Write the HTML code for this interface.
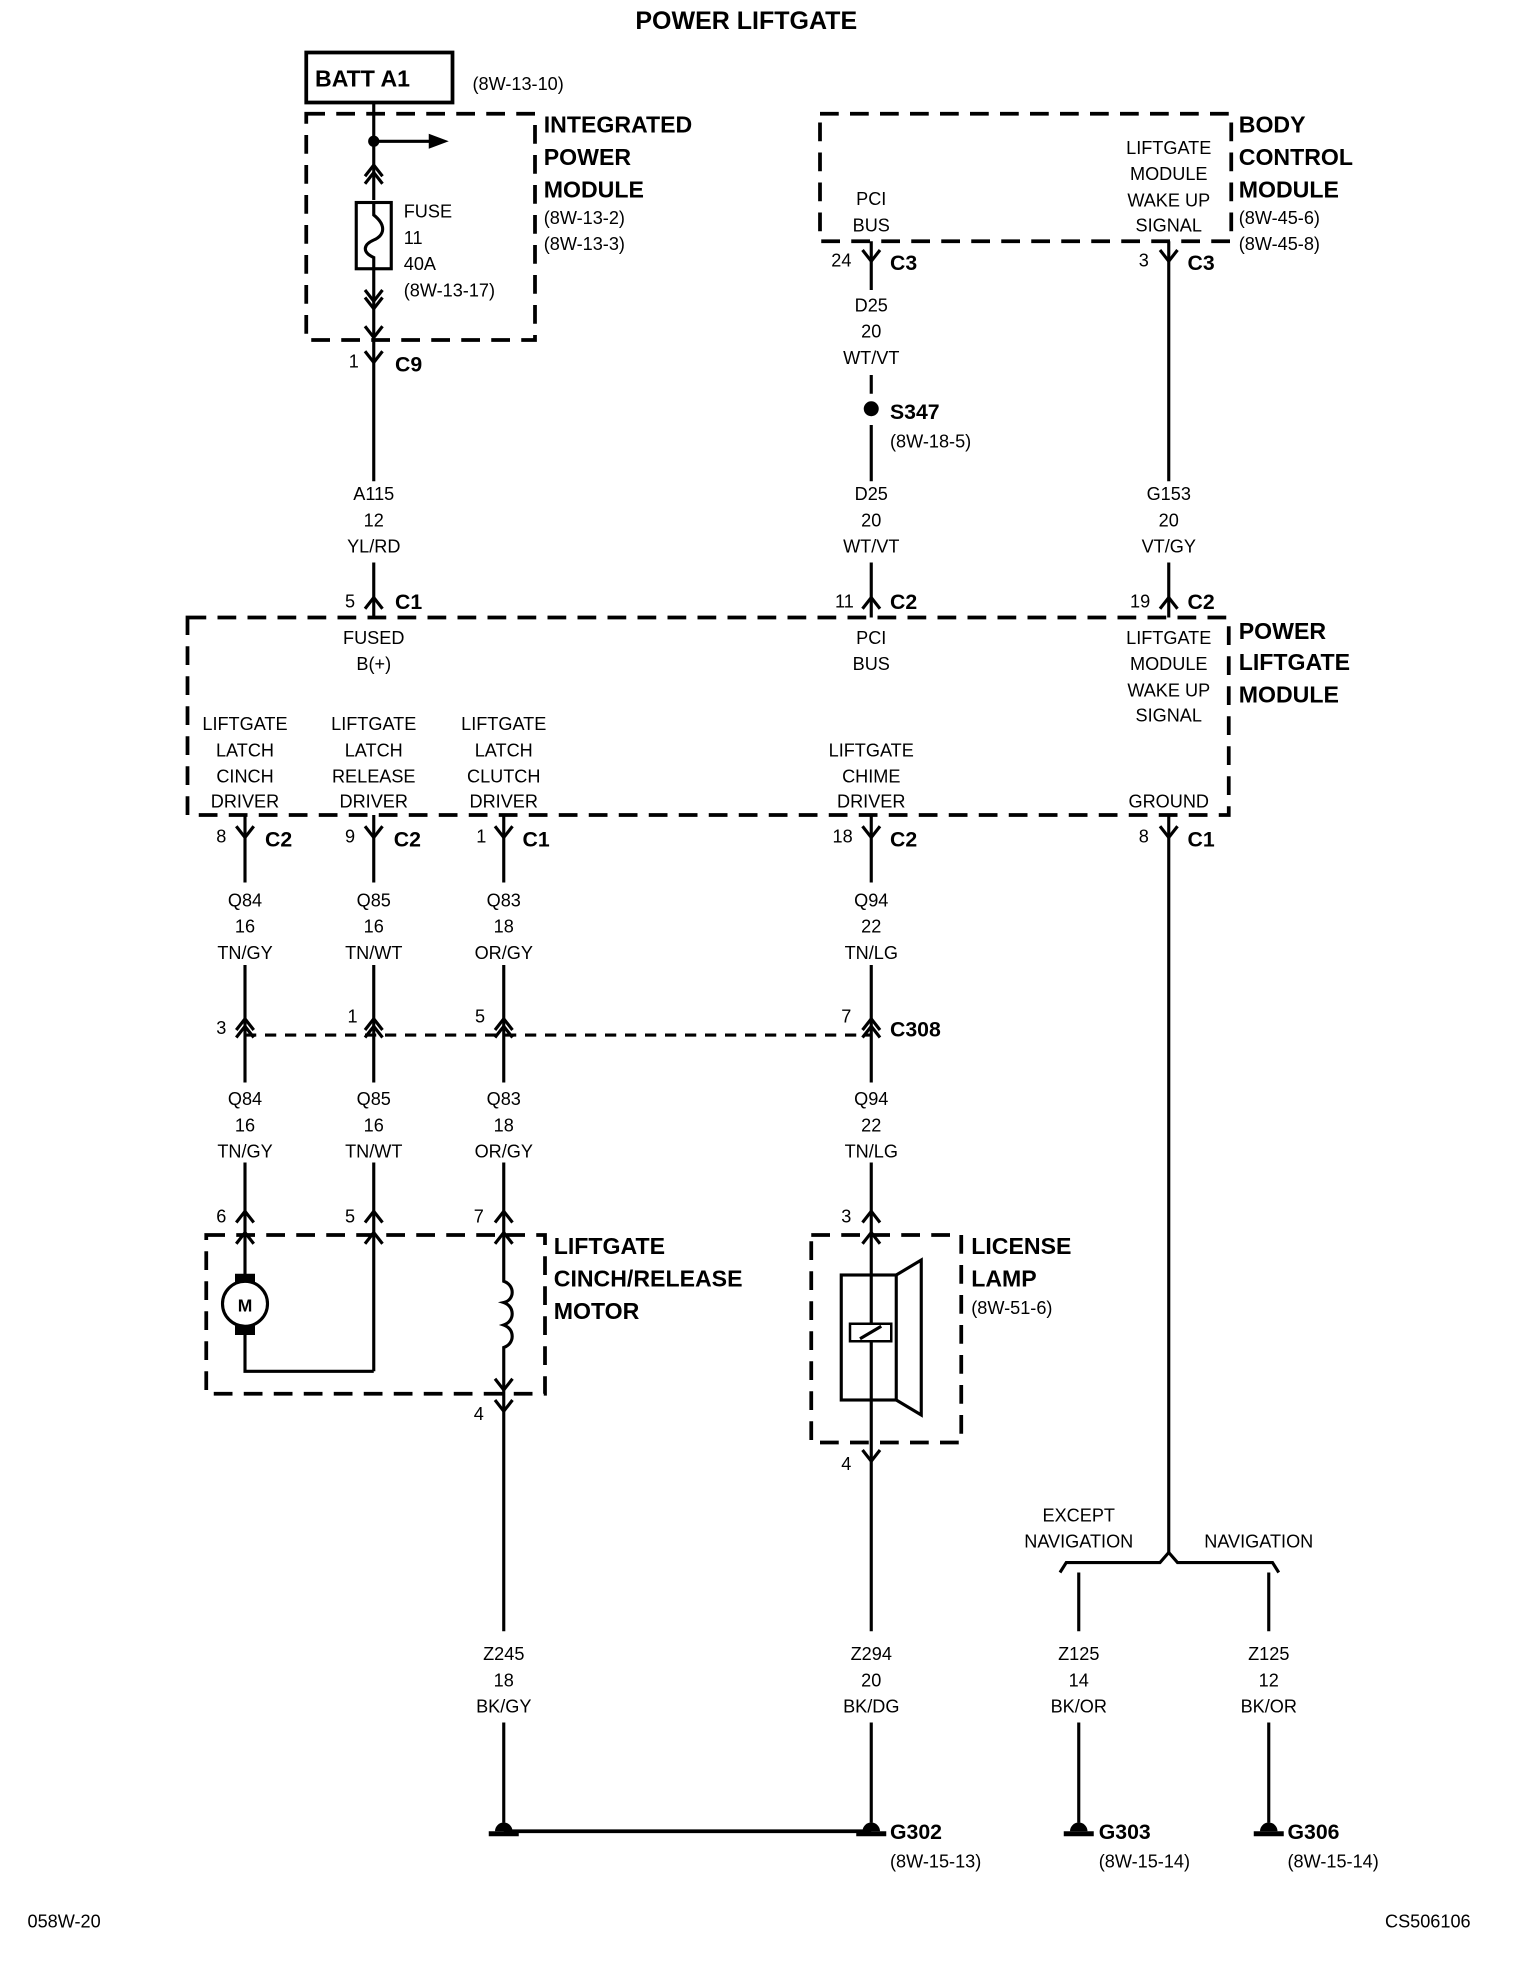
<!DOCTYPE html>
<html><head><meta charset="utf-8"><style>
html,body{margin:0;padding:0;background:#fff}
svg{display:block}
text{font-family:"Liberation Sans Narrow","Liberation Sans",sans-serif;fill:#000}
.t{font-size:14.5px;text-anchor:middle}
.l{font-size:14.5px}
.b{font-size:18.5px;font-weight:bold}
.c{font-size:17px;font-weight:bold}
.w{stroke:#000;stroke-width:2.5;fill:none}
.d{stroke:#000;stroke-width:3;fill:none;stroke-dasharray:15 9}
</style></head><body>
<svg width="1520" height="1974" viewBox="0 0 1216 1579.2" xmlns="http://www.w3.org/2000/svg">
<defs>
<path id="f" d="M-7,-9 L0,0 L7,-9" stroke="#000" stroke-width="2.5" fill="none"/>
<path id="m" d="M-7,9 L0,0 L7,9" stroke="#000" stroke-width="2.5" fill="none"/>
<g id="mm"><path d="M-7,9 L0,0 L7,9 M-7,15 L0,6 L7,15" stroke="#000" stroke-width="2.5" fill="none"/></g>
<g id="dd"><path d="M-7,-9 L0,0 L7,-9 M-7,-15 L0,-6 L7,-15" stroke="#000" stroke-width="2.5" fill="none"/></g>
<g id="g"><path d="M-7,0 A7,7 0 0 1 7,0 Z" fill="#000"/><rect x="-12" y="0" width="24" height="4" fill="#000"/></g>
</defs>

<text x="597" y="23" class="b" text-anchor="middle" style="font-size:20px">POWER LIFTGATE</text>

<!-- BATT / IPM -->
<rect x="245" y="42" width="117" height="40" fill="none" stroke="#000" stroke-width="3"/>
<text x="252" y="69" class="b">BATT A1</text>
<text x="378" y="72" class="l">(8W-13-10)</text>
<rect x="245" y="91" width="183" height="181" class="d"/>
<text x="435" y="106" class="b">INTEGRATED</text>
<text x="435" y="132" class="b">POWER</text>
<text x="435" y="158" class="b">MODULE</text>
<text x="435" y="179" class="l">(8W-13-2)</text>
<text x="435" y="200" class="l">(8W-13-3)</text>
<path class="w" d="M299,82 V160 M299,215 V385 M299,113 H345"/>
<path d="M343,107 L359,113 L343,119 Z"/>
<circle cx="299" cy="113" r="4.5"/>
<use href="#mm" x="299" y="132"/>
<rect x="285" y="162" width="28" height="53" fill="none" stroke="#000" stroke-width="2.5"/>
<path class="w" d="M299,162 V172 C309,180 308,188 299,192 C290,196 290,202 299,206 V215"/>
<use href="#dd" x="299" y="247"/>
<use href="#f" x="299" y="270"/>
<text x="323" y="174" class="l">FUSE</text>
<text x="323" y="195" class="l">11</text>
<text x="323" y="216" class="l">40A</text>
<text x="323" y="237" class="l">(8W-13-17)</text>
<use href="#f" x="299" y="290"/>
<text x="279" y="294" class="l">1</text>
<text x="316" y="297" class="c">C9</text>
<text x="299" y="400" class="t">A115</text>
<text x="299" y="421" class="t">12</text>
<text x="299" y="442" class="t">YL/RD</text>
<path class="w" d="M299,450 V494"/>
<use href="#m" x="299" y="478"/>
<text x="276" y="486" class="l">5</text>
<text x="316" y="487" class="c">C1</text>

<!-- BCM -->
<rect x="656" y="91" width="329" height="102" class="d"/>
<text x="697" y="164" class="t">PCI</text>
<text x="697" y="185" class="t">BUS</text>
<text x="935" y="123" class="t">LIFTGATE</text>
<text x="935" y="144" class="t">MODULE</text>
<text x="935" y="165" class="t">WAKE UP</text>
<text x="935" y="185" class="t">SIGNAL</text>
<text x="991" y="106" class="b">BODY</text>
<text x="991" y="132" class="b">CONTROL</text>
<text x="991" y="158" class="b">MODULE</text>
<text x="991" y="179" class="l">(8W-45-6)</text>
<text x="991" y="200" class="l">(8W-45-8)</text>
<path class="w" d="M697,193 V232 M697,300 V315 M697,340 V385 M697,450 V494 M935,193 V385 M935,450 V494"/>
<use href="#f" x="697" y="209"/>
<use href="#f" x="935" y="209"/>
<text x="665" y="213" class="l">24</text>
<text x="712" y="216" class="c">C3</text>
<text x="911" y="213" class="l">3</text>
<text x="950" y="216" class="c">C3</text>
<text x="697" y="249" class="t">D25</text>
<text x="697" y="270" class="t">20</text>
<text x="697" y="291" class="t">WT/VT</text>
<circle cx="697" cy="327" r="6"/>
<text x="712" y="335" class="c">S347</text>
<text x="712" y="358" class="l">(8W-18-5)</text>
<text x="697" y="400" class="t">D25</text>
<text x="697" y="421" class="t">20</text>
<text x="697" y="442" class="t">WT/VT</text>
<text x="935" y="400" class="t">G153</text>
<text x="935" y="421" class="t">20</text>
<text x="935" y="442" class="t">VT/GY</text>
<use href="#m" x="697" y="478"/>
<use href="#m" x="935" y="478"/>
<text x="668" y="486" class="l">11</text>
<text x="712" y="487" class="c">C2</text>
<text x="904" y="486" class="l">19</text>
<text x="950" y="487" class="c">C2</text>

<!-- PLM -->
<rect x="150" y="494" width="833" height="158" class="d"/>
<text x="991" y="511" class="b">POWER</text>
<text x="991" y="536" class="b">LIFTGATE</text>
<text x="991" y="562" class="b">MODULE</text>
<text x="299" y="515" class="t">FUSED</text>
<text x="299" y="536" class="t">B(+)</text>
<text x="697" y="515" class="t">PCI</text>
<text x="697" y="536" class="t">BUS</text>
<text x="935" y="515" class="t">LIFTGATE</text>
<text x="935" y="536" class="t">MODULE</text>
<text x="935" y="557" class="t">WAKE UP</text>
<text x="935" y="577" class="t">SIGNAL</text>
<text x="196" y="584" class="t">LIFTGATE</text><text x="196" y="605" class="t">LATCH</text><text x="196" y="626" class="t">CINCH</text><text x="196" y="646" class="t">DRIVER</text>
<text x="299" y="584" class="t">LIFTGATE</text><text x="299" y="605" class="t">LATCH</text><text x="299" y="626" class="t">RELEASE</text><text x="299" y="646" class="t">DRIVER</text>
<text x="403" y="584" class="t">LIFTGATE</text><text x="403" y="605" class="t">LATCH</text><text x="403" y="626" class="t">CLUTCH</text><text x="403" y="646" class="t">DRIVER</text>
<text x="697" y="605" class="t">LIFTGATE</text><text x="697" y="626" class="t">CHIME</text><text x="697" y="646" class="t">DRIVER</text>
<text x="935" y="646" class="t">GROUND</text>

<!-- driver wires -->
<path class="w" d="M196,652 V706 M299,652 V706 M403,652 V706 M697,652 V706 M935,652 V1243
M196,772 V866 M299,772 V866 M403,772 V866 M697,772 V866
M196,930 V1043 M299,930 V1097 M196,1043 V1097 H299 M403,930 V1022 M403,1080 V1158 M697,930 V1305 M403,1118 V1305"/>
<use href="#f" x="196" y="670"/><use href="#f" x="299" y="670"/><use href="#f" x="403" y="670"/><use href="#f" x="697" y="670"/><use href="#f" x="935" y="670"/>
<text x="173" y="674" class="l">8</text><text x="212" y="677" class="c">C2</text>
<text x="276" y="674" class="l">9</text><text x="315" y="677" class="c">C2</text>
<text x="381" y="674" class="l">1</text><text x="418" y="677" class="c">C1</text>
<text x="666" y="674" class="l">18</text><text x="712" y="677" class="c">C2</text>
<text x="911" y="674" class="l">8</text><text x="950" y="677" class="c">C1</text>

<text x="196" y="725" class="t">Q84</text><text x="196" y="746" class="t">16</text><text x="196" y="767" class="t">TN/GY</text>
<text x="299" y="725" class="t">Q85</text><text x="299" y="746" class="t">16</text><text x="299" y="767" class="t">TN/WT</text>
<text x="403" y="725" class="t">Q83</text><text x="403" y="746" class="t">18</text><text x="403" y="767" class="t">OR/GY</text>
<text x="697" y="725" class="t">Q94</text><text x="697" y="746" class="t">22</text><text x="697" y="767" class="t">TN/LG</text>

<!-- C308 -->
<path d="M196,828 H697" stroke="#000" stroke-width="2.5" stroke-dasharray="9 7"/>
<use href="#mm" x="196" y="815"/><use href="#mm" x="299" y="815"/><use href="#mm" x="403" y="815"/><use href="#mm" x="697" y="815"/>
<text x="173" y="827" class="l">3</text><text x="278" y="818" class="l">1</text><text x="380" y="818" class="l">5</text><text x="673" y="818" class="l">7</text>
<text x="712" y="829" class="c">C308</text>

<text x="196" y="884" class="t">Q84</text><text x="196" y="905" class="t">16</text><text x="196" y="926" class="t">TN/GY</text>
<text x="299" y="884" class="t">Q85</text><text x="299" y="905" class="t">16</text><text x="299" y="926" class="t">TN/WT</text>
<text x="403" y="884" class="t">Q83</text><text x="403" y="905" class="t">18</text><text x="403" y="926" class="t">OR/GY</text>
<text x="697" y="884" class="t">Q94</text><text x="697" y="905" class="t">22</text><text x="697" y="926" class="t">TN/LG</text>

<!-- motor -->
<use href="#m" x="196" y="969"/><use href="#m" x="299" y="969"/><use href="#m" x="403" y="969"/><use href="#m" x="697" y="969"/>
<text x="173" y="978" class="l">6</text><text x="276" y="978" class="l">5</text><text x="379" y="978" class="l">7</text><text x="673" y="978" class="l">3</text>
<rect x="165" y="988" width="271" height="127" class="d"/>
<use href="#m" x="196" y="986"/><use href="#m" x="299" y="986"/><use href="#m" x="403" y="986"/>
<rect x="188" y="1019" width="16" height="8"/><rect x="188" y="1060" width="16" height="8"/>
<circle cx="196" cy="1043" r="18" fill="#fff" stroke="#000" stroke-width="2.5"/>
<text x="196" y="1049" class="t" style="font-size:14px;font-weight:bold">M</text>
<path class="w" d="M403,1022 V1025 C412,1028 412,1040 403,1042 C412,1045 412,1057 403,1060 C412,1063 412,1075 403,1078 V1080"/>
<use href="#f" x="403" y="1112"/>
<use href="#f" x="403" y="1129"/>
<text x="379" y="1136" class="l">4</text>
<text x="443" y="1003" class="b">LIFTGATE</text>
<text x="443" y="1029" class="b">CINCH/RELEASE</text>
<text x="443" y="1055" class="b">MOTOR</text>

<!-- license lamp -->
<rect x="649" y="988" width="120" height="166" class="d"/>
<use href="#m" x="697" y="986"/>
<rect x="673" y="1020" width="44" height="100" fill="none" stroke="#000" stroke-width="2.5"/>
<path class="w" d="M717,1020 L737,1008 V1132 L717,1120"/>
<rect x="680" y="1059" width="33" height="14" fill="#fff" stroke="#000" stroke-width="2"/>
<path class="w" d="M688,1071 L705,1061"/>
<use href="#f" x="697" y="1169"/>
<text x="673" y="1176" class="l">4</text>
<text x="777" y="1003" class="b">LICENSE</text>
<text x="777" y="1029" class="b">LAMP</text>
<text x="777" y="1051" class="l">(8W-51-6)</text>

<!-- ground split -->
<path class="w" d="M848,1258 L853,1250 H928 L935,1242 L942,1250 H1018 L1023,1258"/>
<text x="863" y="1217" class="t">EXCEPT</text>
<text x="863" y="1238" class="t">NAVIGATION</text>
<text x="1007" y="1238" class="t">NAVIGATION</text>
<path class="w" d="M863,1258 V1305 M1015,1258 V1305 M863,1378 V1458 M1015,1378 V1458 M697,1378 V1458 M403,1378 V1458"/>
<text x="403" y="1328" class="t">Z245</text><text x="403" y="1349" class="t">18</text><text x="403" y="1370" class="t">BK/GY</text>
<text x="697" y="1328" class="t">Z294</text><text x="697" y="1349" class="t">20</text><text x="697" y="1370" class="t">BK/DG</text>
<text x="863" y="1328" class="t">Z125</text><text x="863" y="1349" class="t">14</text><text x="863" y="1370" class="t">BK/OR</text>
<text x="1015" y="1328" class="t">Z125</text><text x="1015" y="1349" class="t">12</text><text x="1015" y="1370" class="t">BK/OR</text>
<path class="w" d="M403,1465 H697" style="stroke-width:3"/>
<use href="#g" x="403" y="1465"/><use href="#g" x="697" y="1465"/><use href="#g" x="863" y="1465"/><use href="#g" x="1015" y="1465"/>
<text x="712" y="1471" class="c">G302</text>
<text x="712" y="1494" class="l">(8W-15-13)</text>
<text x="879" y="1471" class="c">G303</text>
<text x="879" y="1494" class="l">(8W-15-14)</text>
<text x="1030" y="1471" class="c">G306</text>
<text x="1030" y="1494" class="l">(8W-15-14)</text>

<text x="22" y="1542" class="l">058W-20</text>
<text x="1108" y="1542" class="l">CS506106</text>
</svg>
</body></html>
